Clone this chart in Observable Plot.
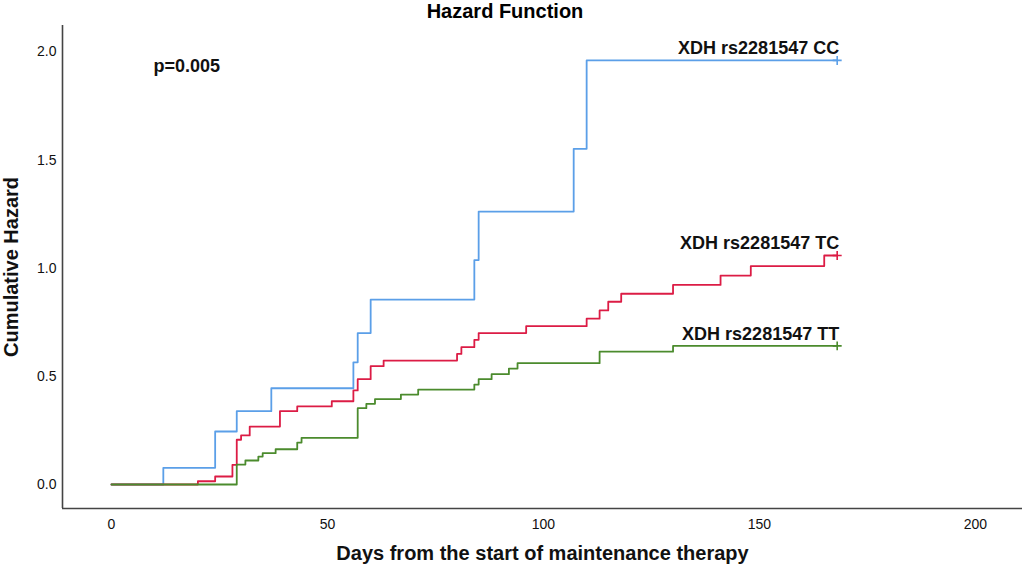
<!DOCTYPE html>
<html><head><meta charset="utf-8">
<script src="https://cdn.jsdelivr.net/npm/d3@7"></script>
<script src="https://cdn.jsdelivr.net/npm/@observablehq/plot@0.6"></script>
<style>
body{margin:0;background:#fff;font-family:"Liberation Sans",Arial,sans-serif;}
#title{width:1010px;height:22px;line-height:22px;text-align:center;font-weight:bold;font-size:20px;color:#000;}
</style></head><body>
<div id="title">Hazard Function</div>
<div id="chart"></div>
<script>
const groups = ["XDH rs2281547 CC", "XDH rs2281547 TC", "XDH rs2281547 TT"];
const ccDays   = [0, 12, 24, 29, 37, 56, 57, 60, 84, 85, 107, 110, 168];
const ccHazard = [0, 0.077, 0.245, 0.339, 0.445, 0.565, 0.700, 0.855, 1.038, 1.262, 1.552, 1.961, 1.961];
const tcDays   = [0, 20, 24, 28, 29, 30, 32, 39, 43, 51, 56, 57, 60, 63, 80, 81, 84, 85, 96, 110, 113, 115, 118, 130, 141, 148, 165, 168];
const tcHazard = [0, 0.015, 0.037, 0.091, 0.207, 0.227, 0.268, 0.339, 0.361, 0.385, 0.435, 0.487, 0.547, 0.573, 0.604, 0.635, 0.669, 0.700, 0.732, 0.767, 0.805, 0.845, 0.882, 0.923, 0.966, 1.010, 1.059, 1.059];
const ttDays   = [0, 29, 31, 34, 35, 38, 43, 44, 57, 59, 61, 67, 71, 84, 85, 88, 92, 94, 113, 130, 168];
const ttHazard = [0, 0.092, 0.111, 0.129, 0.145, 0.163, 0.194, 0.216, 0.353, 0.373, 0.395, 0.416, 0.439, 0.462, 0.487, 0.510, 0.536, 0.561, 0.614, 0.641, 0.641];
const xTicks = [0, 50, 100, 150, 200];
const yTicks = [0, 0.5, 1.0, 1.5, 2.0];
const pValueText = "p=0.005";
const xTitle = "Days from the start of maintenance therapy";
const yTitle = "Cumulative Hazard";

const seriesDays = [ccDays, tcDays, ttDays];
const seriesHazard = [ccHazard, tcHazard, ttHazard];
const rows = groups.flatMap((g, i) => seriesDays[i].map((d, j) => ({group: g, day: d, hazard: seriesHazard[i][j]})));
const ends = groups.map((g, i) => ({group: g, day: seriesDays[i][seriesDays[i].length - 1], hazard: seriesHazard[i][seriesHazard[i].length - 1]}));

const xDomain = [-11.34, 210.9];
const yDomain = [-0.111, 2.1225];
const colors = ["#5b9fe8", "#dc1c45", "#4b8b2d"];
const axisColor = "#444";

const chart = Plot.plot({
  width: 1024,
  height: 550,
  marginLeft: 62,
  marginRight: 2,
  marginTop: 3,
  marginBottom: 64,
  style: {fontFamily: "'Liberation Sans', Arial, sans-serif", fontSize: "14px", color: "#111", background: "#fff"},
  x: {domain: xDomain},
  y: {domain: yDomain},
  color: {domain: groups, range: colors},
  marks: [
    Plot.axisX({ticks: xTicks, tickSize: 0, tickPadding: 11, label: null, fontSize: 14}),
    Plot.axisY({ticks: yTicks, tickSize: 0, tickPadding: 6, tickFormat: d3.format(".1f"), label: null, fontSize: 14}),
    Plot.ruleX([xDomain[0]], {stroke: axisColor, strokeWidth: 1.6}),
    Plot.ruleY([yDomain[0]], {stroke: axisColor, strokeWidth: 1.6}),
    Plot.line(rows, {x: "day", y: "hazard", z: "group", stroke: "group", curve: "step-after", strokeWidth: 1.8}),
    Plot.dot(ends, {x: "day", y: "hazard", stroke: "group", symbol: "plus", r: 3, strokeWidth: 1.6}),
    Plot.text(ends, {x: "day", y: "hazard", text: "group", textAnchor: "end", lineAnchor: "bottom", dx: 2, dy: -6, fontSize: 18, fontWeight: "bold", fill: "#111"}),
    Plot.text([pValueText], {frameAnchor: "top-left", textAnchor: "start", lineAnchor: "bottom", dx: 91, dy: 46, fontSize: 18, fontWeight: "bold", fill: "#111"}),
    Plot.text([yTitle], {frameAnchor: "left", rotate: -90, textAnchor: "middle", lineAnchor: "bottom", dx: -45, fontSize: 20, fontWeight: "bold", fill: "#111"}),
    Plot.text([xTitle], {frameAnchor: "bottom", textAnchor: "middle", lineAnchor: "bottom", dy: 51, fontSize: 20, fontWeight: "bold", fill: "#111"})
  ]
});
document.getElementById("chart").appendChild(chart);
</script>
</body></html>
